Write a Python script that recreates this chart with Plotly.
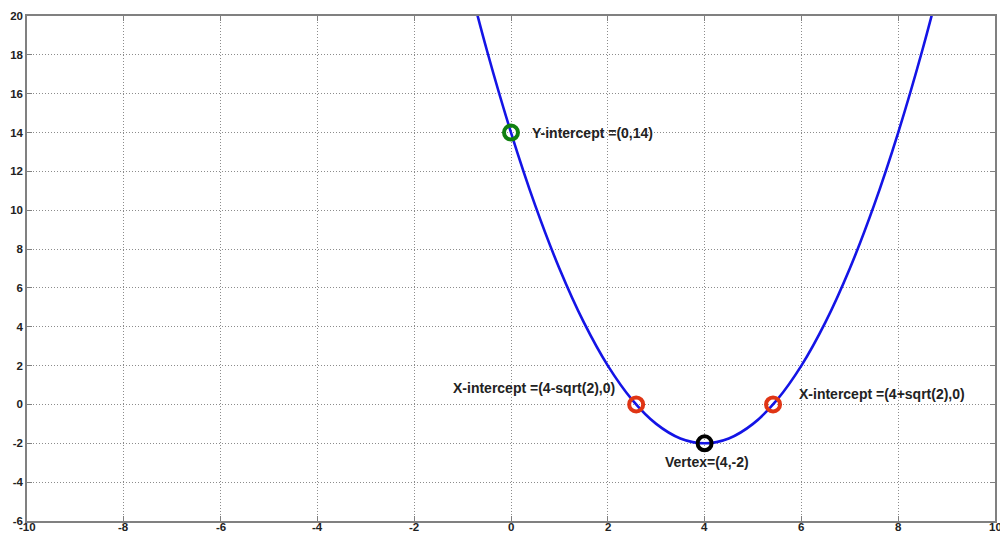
import plotly.graph_objects as go

# Curve samples
curve_x = [-1, -0.5, 0, 0.5, 1, 1.5, 2, 2.5, 3, 3.5, 4, 4.5, 5, 5.5, 6, 6.5, 7, 7.5, 8, 8.5, 9]
curve_y = [23, 18.25, 14, 10.25, 7, 4.25, 2, 0.25, -1, -1.75, -2, -1.75, -1, 0.25, 2, 4.25, 7, 10.25, 14, 18.25, 23]

# Marked points
yint_x, yint_y = [0], [14]
xint_x, xint_y = [2.586, 5.414], [0, 0]
vert_x, vert_y = [4], [-2]

labels = {
    "yint": "Y-intercept =(0,14)",
    "xint1": "X-intercept =(4-sqrt(2),0)",
    "xint2": "X-intercept =(4+sqrt(2),0)",
    "vert": "Vertex=(4,-2)",
}

x_ticks = list(range(-10, 11, 2))
y_ticks = list(range(-6, 21, 2))

fig = go.Figure()
fig.add_trace(go.Scatter(x=curve_x, y=curve_y, mode="lines",
                         line=dict(color="#1414e6", width=2.6, shape="spline", smoothing=1),
                         showlegend=False, hoverinfo="skip"))
marker_style = dict(size=14, symbol="circle-open")
fig.add_trace(go.Scatter(x=yint_x, y=yint_y, mode="markers",
                         marker=dict(marker_style, color="#108010", line=dict(width=4, color="#108010")),
                         showlegend=False))
fig.add_trace(go.Scatter(x=xint_x, y=xint_y, mode="markers",
                         marker=dict(marker_style, color="#e03515", line=dict(width=4, color="#e03515")),
                         showlegend=False))
fig.add_trace(go.Scatter(x=vert_x, y=vert_y, mode="markers",
                         marker=dict(marker_style, color="#000000", line=dict(width=4, color="#000000")),
                         showlegend=False))

afont = dict(family="Liberation Sans, Arial", size=14, color="#222222")
fig.add_annotation(x=0.39, y=14, text="<b>" + labels["yint"] + "</b>", showarrow=False,
                   xanchor="left", yanchor="middle", font=afont)
fig.add_annotation(x=2.19, y=0.85, text="<b>" + labels["xint1"] + "</b>", showarrow=False,
                   xanchor="right", yanchor="middle", font=afont)
fig.add_annotation(x=5.91, y=0.54, text="<b>" + labels["xint2"] + "</b>", showarrow=False,
                   xanchor="left", yanchor="middle", font=afont)
fig.add_annotation(x=4.05, y=-2.96, text="<b>" + labels["vert"] + "</b>", showarrow=False,
                   xanchor="center", yanchor="middle", font=afont)

tfont = dict(family="Liberation Sans, Arial", size=11.5, color="#222222")
# x tick labels placed just under the axis line
for v in x_ticks:
    fig.add_annotation(x=v, y=0, xref="x", yref="paper", text="<b>%d</b>" % v,
                       showarrow=False, xanchor="center", yanchor="middle", yshift=-6,
                       font=tfont)

axis_common = dict(showgrid=True, gridcolor="#8c8c8c", griddash="1px,2px", gridwidth=1,
                   showline=True, linecolor="#808080", linewidth=1.5, mirror="ticks",
                   ticks="inside", ticklen=5, tickcolor="#808080", zeroline=False,
                   automargin=False, tickfont=tfont)
fig.update_xaxes(range=[-10, 10], tickvals=x_ticks, showticklabels=False, **axis_common)
fig.update_yaxes(range=[-6, 20], tickvals=y_ticks,
                 ticktext=["<b>%d</b>" % v for v in y_ticks], **axis_common)

fig.update_layout(width=1000, height=533, plot_bgcolor="white", paper_bgcolor="white",
                  margin=dict(l=27, r=5, t=16, b=12))
fig.write_html("out.html", config={"displayModeBar": False},
               post_script="document.body.style.margin='0px';document.body.style.overflow='hidden';")
